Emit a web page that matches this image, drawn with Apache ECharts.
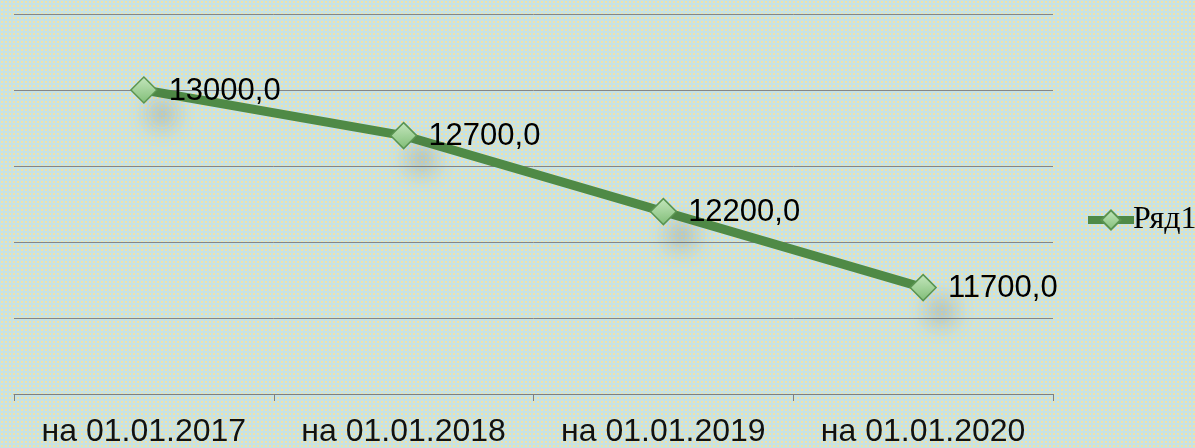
<!DOCTYPE html>
<html>
<head>
<meta charset="utf-8">
<script src="https://cdn.jsdelivr.net/npm/echarts@6/dist/echarts.min.js"></script>
<style>
  html, body { margin: 0; padding: 0; }
  body {
    width: 1195px; height: 448px; overflow: hidden;
    background-color: #c6e2e4;
    background-image: radial-gradient(circle, #f0e2a8 1px, transparent 1.3px);
    background-size: 4px 4px;
  }
  #chart { width: 1195px; height: 448px; }
</style>
</head>
<body>
<div id="chart"></div>
<script type="text/javascript">
  // data
  var categories = ['на 01.01.2017', 'на 01.01.2018', 'на 01.01.2019', 'на 01.01.2020'];
  var values = [13000, 12700, 12200, 11700];
  var seriesName = 'Ряд1';

  var myChart = echarts.init(document.getElementById('chart'), null, { renderer: 'canvas' });
  var option = {
    backgroundColor: 'transparent',
    animation: false,
    legend: {
      data: [seriesName],
      left: 1079,
      top: 199,
      itemWidth: 46,
      itemHeight: 24,
      itemGap: 0,
      lineStyle: { width: 8, color: '#4f8a46' },
      textStyle: { fontFamily: 'Liberation Serif', fontSize: 32, color: '#000', padding: [0, 0, 0, -6] }
    },
    grid: { left: 14, right: 142, top: 14, bottom: 54 },
    xAxis: {
      type: 'category',
      data: categories,
      boundaryGap: true,
      axisLine: { lineStyle: { color: '#7f7f7f', width: 1 } },
      axisTick: { show: true, interval: 0, length: 7, lineStyle: { color: '#7f7f7f' } },
      axisLabel: { interval: 0, hideOverlap: false, fontFamily: 'Liberation Sans', fontSize: 32, color: '#111', margin: 22 }
    },
    yAxis: {
      type: 'value',
      min: 11000,
      max: 13500,
      interval: 500,
      axisLabel: { show: false },
      axisLine: { show: false },
      axisTick: { show: false },
      splitLine: { lineStyle: { color: '#858585', width: 1 } }
    },
    series: [{
      name: seriesName,
      type: 'line',
      data: values,
      symbol: 'diamond',
      symbolSize: 26,
      lineStyle: { color: '#4f8a46', width: 9 },
      itemStyle: {
        color: new echarts.graphic.LinearGradient(0, 0, 0, 1, [
          { offset: 0, color: '#c4e6bd' },
          { offset: 1, color: '#82bf79' }
        ]),
        borderColor: '#5a9451',
        borderWidth: 1.5,
        shadowBlur: 22,
        shadowColor: 'rgba(60,60,60,0.3)',
        shadowOffsetX: 18,
        shadowOffsetY: 24
      },
      label: {
        show: true,
        position: 'right',
        distance: 11,
        offset: [0, 1],
        fontFamily: 'Liberation Sans',
        fontSize: 31,
        color: '#000',
        formatter: function (p) { return p.value.toFixed(1).replace('.', ','); }
      }
    }]
  };
  myChart.setOption(option);
</script>
</body>
</html>
